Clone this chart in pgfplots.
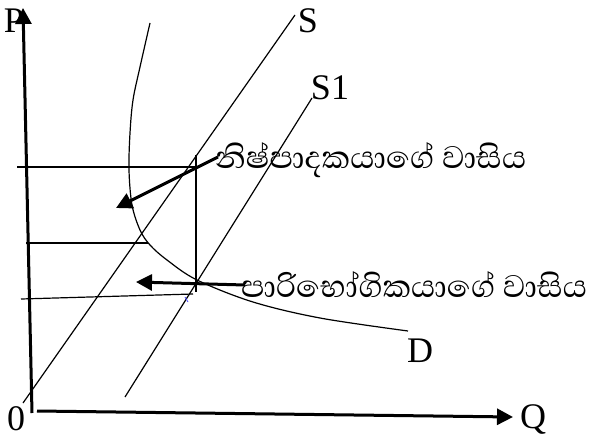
\documentclass[border=0pt]{standalone}
\usepackage{pgfplots}
\pgfplotsset{compat=1.18}
\usetikzlibrary{arrows.meta}
\usepackage{fontspec}
\setmainfont{Liberation Serif}
\newfontfamily\sinhala[Script=Sinhala]{Abhaya Libre}

\pgfplotsset{
  thin line/.style={black, solid, no markers, line width=1.2pt},
  thick arrow/.style={black, solid, no markers, line width=3pt,
    -{Triangle[length=16pt,width=16pt]}},
}
\tikzset{
  lbl/.style={inner sep=0pt, font=\fontsize{36}{40}\selectfont},
  slbl/.style={anchor=west, inner sep=0pt, font=\sinhala\fontsize{40}{44}\selectfont},
}

\begin{document}
\begin{tikzpicture}
\begin{axis}[
  scale only axis, width=589pt, height=439pt,
  xmin=0, xmax=589, ymin=0, ymax=439, y dir=reverse,
  axis lines=none, clip=false,
]
% axes
\addplot[thick arrow] coordinates {(32,413) (23,8)};
\addplot[thick arrow] coordinates {(37,411) (513,417)};
% supply lines
\addplot[thin line] coordinates {(23,403) (295,15)};
\addplot[thin line] coordinates {(125,397) (312,98)};
% demand curve
\addplot[thin line, smooth, tension=0.55] coordinates {
  (150,23) (140,67) (133,100) (130,133) (129,170) (132,205) (140,230)
  (150,245) (167,260) (197,280) (253,302) (320,318) (408,331)};
% price lines
\addplot[thin line] coordinates {(17,167) (196,167)};
\addplot[thin line] coordinates {(26,243) (148,243)};
\addplot[thin line] coordinates {(21,299) (193,294)};
\addplot[thin line] coordinates {(196,155) (196,292)};
\addplot[thin line, blue!70, line width=0.8pt] coordinates {(185,297) (188,302)};
% pointer arrows
\addplot[thick arrow] coordinates {(218,157) (116,208)};
\addplot[thick arrow] coordinates {(245,285) (136,282)};
% labels
\node[lbl] at (axis cs:14,21) {P};
\node[lbl] at (axis cs:16,419) {0};
\node[lbl] at (axis cs:533,419) {Q};
\node[lbl] at (axis cs:308,21) {S};
\node[lbl] at (axis cs:330,88) {S1};
\node[lbl] at (axis cs:420,351) {D};
\node[slbl] at (axis cs:215,160) {නිෂ්පාදකයාගේ වාසිය};
\node[slbl] at (axis cs:241,285) {පාරිභෝගිකයාගේ වාසිය};
\end{axis}
\pgfresetboundingbox
\useasboundingbox (0,0) rectangle (589pt,439pt);
\end{tikzpicture}
\end{document}
